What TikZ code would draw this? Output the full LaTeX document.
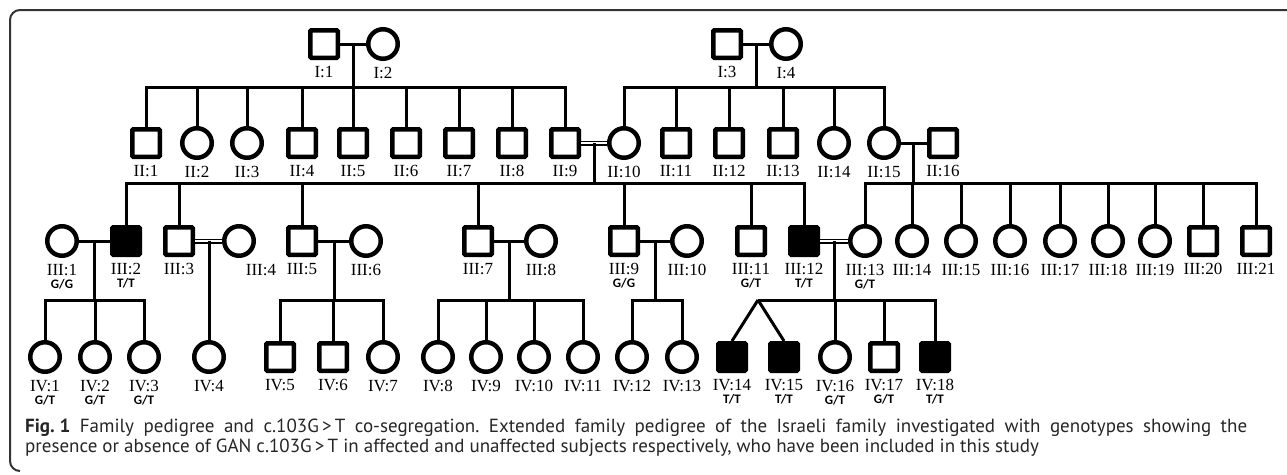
\documentclass[tikz,border=0pt]{standalone}
\usepackage{fontspec}
\usetikzlibrary{calc}
\setmainfont{Liberation Serif}
\newfontfamily\capfont{PT Sans}
\newfontfamily\genofont{Carlito}

\tikzset{
  male/.style={draw, rectangle, line width=4.5pt, minimum size=27.5pt, inner sep=0pt, rounded corners=1pt},
  female/.style={draw, circle, line width=4.5pt, minimum size=29.5pt, inner sep=0pt},
  affected/.style={male, fill=black},
  lbl/.style={inner sep=0pt, text height=11pt, text depth=0pt, yshift=-6pt, font=\fontsize{17}{18}\selectfont},
  geno/.style={inner sep=0pt, text height=8.5pt, text depth=0pt, yshift=-21.5pt, font=\genofont\bfseries\fontsize{13}{13}\selectfont},
  conn/.style={line width=3pt},
  dbl/.style={line width=1.5pt, double, double distance=2pt},
  captxt/.style={anchor=base west, inner sep=0pt, text=black!85, font=\capfont\fontsize{19}{21}\selectfont\frenchspacing},
}

\begin{document}
\begin{tikzpicture}[x=1pt, y=-1pt]
\useasboundingbox (0,0) rectangle (1287,474);
\draw[line width=2pt, black!80, rounded corners=10pt] (20,471) -- (10,471) -- (10,10) -- (1287,10);

\node[male, label={[lbl]below:{I:1}}] (I1) at (324,44) {};
\node[female, label={[lbl]below:{I:2}}] (I2) at (383,44) {};
\node[male, label={[lbl]below:{I:3}}] (I3) at (727,44) {};
\node[female, label={[lbl]below:{I:4}}] (I4) at (786,44) {};

\node[male, label={[lbl]below:{II:1}}] (II1) at (146,143) {};
\node[female, label={[lbl]below:{II:2}}] (II2) at (197,143) {};
\node[female, label={[lbl]below:{II:3}}] (II3) at (247,143) {};
\node[male, label={[lbl]below:{II:4}}] (II4) at (302,143) {};
\node[male, label={[lbl]below:{II:5}}] (II5) at (353,143) {};
\node[male, label={[lbl]below:{II:6}}] (II6) at (406,143) {};
\node[male, label={[lbl]below:{II:7}}] (II7) at (459,143) {};
\node[male, label={[lbl]below:{II:8}}] (II8) at (512,143) {};
\node[male, label={[lbl]below:{II:9}}] (II9) at (565,143) {};
\node[female, label={[lbl]below:{II:10}}] (II10) at (624,143) {};
\node[male, label={[lbl]below:{II:11}}] (II11) at (676,143) {};
\node[male, label={[lbl]below:{II:12}}] (II12) at (729,143) {};
\node[male, label={[lbl]below:{II:13}}] (II13) at (783,143) {};
\node[female, label={[lbl]below:{II:14}}] (II14) at (834,143) {};
\node[female, label={[lbl]below:{II:15}}] (II15) at (884,143) {};
\node[male, label={[lbl]below:{II:16}}] (II16) at (943,143) {};

\node[female, label={[lbl]below:{III:1}}, label={[geno]below:{G/G}}] (III1) at (62,241) {};
\node[affected, label={[lbl]below:{III:2}}, label={[geno]below:{T/T}}] (III2) at (126,241) {};
\node[male, label={[lbl]below:{III:3}}] (III3) at (179,241) {};
\node[female, label={[lbl,xshift=22pt]below:{III:4}}] (III4) at (239,241) {};
\node[male, label={[lbl]below:{III:5}}] (III5) at (302,241) {};
\node[female, label={[lbl]below:{III:6}}] (III6) at (366,241) {};
\node[male, label={[lbl]below:{III:7}}] (III7) at (478,241) {};
\node[female, label={[lbl]below:{III:8}}] (III8) at (541,241) {};
\node[male, label={[lbl]below:{III:9}}, label={[geno]below:{G/G}}] (III9) at (624,241) {};
\node[female, label={[lbl]below:{III:10}}] (III10) at (687,241) {};
\node[male, label={[lbl]below:{III:11}}, label={[geno]below:{G/T}}] (III11) at (751,241) {};
\node[affected, label={[lbl]below:{III:12}}, label={[geno]below:{T/T}}] (III12) at (804,241) {};
\node[female, label={[lbl]below:{III:13}}, label={[geno]below:{G/T}}] (III13) at (865,241) {};
\node[female, label={[lbl]below:{III:14}}] (III14) at (912,241) {};
\node[female, label={[lbl]below:{III:15}}] (III15) at (961,241) {};
\node[female, label={[lbl]below:{III:16}}] (III16) at (1010,241) {};
\node[female, label={[lbl]below:{III:17}}] (III17) at (1060,241) {};
\node[female, label={[lbl]below:{III:18}}] (III18) at (1108,241) {};
\node[female, label={[lbl]below:{III:19}}] (III19) at (1155,241) {};
\node[male, label={[lbl]below:{III:20}}] (III20) at (1203,241) {};
\node[male, label={[lbl]below:{III:21}}] (III21) at (1256,241) {};

\node[female, label={[lbl]below:{IV:1}}, label={[geno]below:{G/T}}] (IV1) at (45,357) {};
\node[female, label={[lbl]below:{IV:2}}, label={[geno]below:{G/T}}] (IV2) at (95,357) {};
\node[female, label={[lbl]below:{IV:3}}, label={[geno]below:{G/T}}] (IV3) at (144,357) {};
\node[female, label={[lbl]below:{IV:4}}] (IV4) at (209,357) {};
\node[male, label={[lbl]below:{IV:5}}] (IV5) at (280,357) {};
\node[male, label={[lbl]below:{IV:6}}] (IV6) at (333,357) {};
\node[female, label={[lbl]below:{IV:7}}] (IV7) at (383,357) {};
\node[female, label={[lbl]below:{IV:8}}] (IV8) at (438,357) {};
\node[female, label={[lbl]below:{IV:9}}] (IV9) at (486,357) {};
\node[female, label={[lbl]below:{IV:10}}] (IV10) at (534,357) {};
\node[female, label={[lbl]below:{IV:11}}] (IV11) at (583,357) {};
\node[female, label={[lbl]below:{IV:12}}] (IV12) at (632,357) {};
\node[female, label={[lbl]below:{IV:13}}] (IV13) at (682,357) {};
\node[affected, label={[lbl]below:{IV:14}}, label={[geno]below:{T/T}}] (IV14) at (732,357) {};
\node[affected, label={[lbl]below:{IV:15}}, label={[geno]below:{T/T}}] (IV15) at (784,357) {};
\node[female, label={[lbl]below:{IV:16}}, label={[geno]below:{G/T}}] (IV16) at (835,357) {};
\node[male, label={[lbl]below:{IV:17}}, label={[geno]below:{G/T}}] (IV17) at (884,357) {};
\node[affected, label={[lbl]below:{IV:18}}, label={[geno]below:{T/T}}] (IV18) at (935,357) {};

\coordinate (c1) at ($(I1)!.5!(I2)$);
\coordinate (s1) at (c1 |- 0,87);
\coordinate (c2) at ($(I3)!.5!(I4)$);
\coordinate (s2) at (c2 |- 0,87);
\coordinate (c3) at ($(II9)!.5!(II10)$);
\coordinate (s3) at (c3 |- 0,183);
\coordinate (c4) at ($(II15)!.5!(II16)$);
\coordinate (s4) at (c4 |- 0,183);
\coordinate (c5) at ($(III1)!.5!(III2)$);
\coordinate (s5) at (c5 |- 0,300);
\coordinate (c6) at ($(III3)!.5!(III4)$);
\coordinate (c7) at ($(III5)!.5!(III6)$);
\coordinate (s7) at (c7 |- 0,300);
\coordinate (c8) at ($(III7)!.5!(III8)$);
\coordinate (s8) at (c8 |- 0,300);
\coordinate (c9) at ($(III9)!.5!(III10)$);
\coordinate (s9) at (c9 |- 0,300);
\coordinate (c10) at ($(III12)!.5!(III13)$);
\coordinate (s10) at (c10 |- 0,300);
\coordinate (tw) at (758,300);

\draw[conn] (I1) -- (I2) (c1) -- (s1);
\draw[conn] (II1.north) |- (s1) (II2.north) |- (s1) (II3.north) |- (s1) (II4.north) |- (s1) (II5.north) |- (s1)
  (II6.north) |- (s1) (II7.north) |- (s1) (II8.north) |- (s1) (II9.north) |- (s1);
\draw[conn] (I3) -- (I4) (c2) -- (s2);
\draw[conn] (II10.north) |- (s2) (II11.north) |- (s2) (II12.north) |- (s2) (II13.north) |- (s2)
  (II14.north) |- (s2) (II15.north) |- (s2);

\draw[dbl] (II9) -- (II10);
\draw[conn] (c3) -- (s3);
\draw[conn] (III2.north) |- (s3) (III3.north) |- (s3) (III5.north) |- (s3) (III7.north) |- (s3)
  (III9.north) |- (s3) (III11.north) |- (s3) (III12.north) |- (s3);
\draw[conn] (II15) -- (II16) (c4) -- (s4);
\draw[conn] (III13.north) |- (s4) (III14.north) |- (s4) (III15.north) |- (s4) (III16.north) |- (s4)
  (III17.north) |- (s4) (III18.north) |- (s4) (III19.north) |- (s4) (III20.north) |- (s4) (III21.north) |- (s4);

\draw[conn] (III1) -- (III2) (c5) -- (s5);
\draw[conn] (IV1.north) |- (s5) (IV2.north) |- (s5) (IV3.north) |- (s5);
\draw[dbl] (III3) -- (III4);
\draw[conn] (c6) -- (IV4.north);
\draw[conn] (III5) -- (III6) (c7) -- (s7);
\draw[conn] (IV5.north) |- (s7) (IV6.north) |- (s7) (IV7.north) |- (s7);
\draw[conn] (III7) -- (III8) (c8) -- (s8);
\draw[conn] (IV8.north) |- (s8) (IV9.north) |- (s8) (IV10.north) |- (s8) (IV11.north) |- (s8);
\draw[conn] (III9) -- (III10) (c9) -- (s9);
\draw[conn] (IV12.north) |- (s9) (IV13.north) |- (s9);
\draw[dbl] (III12) -- (III13);
\draw[conn] (c10) -- (s10) (tw) -- (s10);
\draw[conn] (tw) -- (IV14.north) (tw) -- (IV15.north);
\draw[conn] (IV16.north) |- (s10) (IV17.north) |- (s10) (IV18.north) |- (s10);

\node[captxt] (cap1) at (25,432) {\makebox[1222pt][s]{\mbox{\textbf{Fig. 1}} Family pedigree and \mbox{c.103G\,>\,T} co-segregation. Extended family pedigree of the Israeli family investigated with genotypes showing the}};
\node[captxt] (cap2) at (25,452) {presence or absence of GAN c.103G\,>\,T in affected and unaffected subjects respectively, who have been included in this study};
\end{tikzpicture}
\end{document}
